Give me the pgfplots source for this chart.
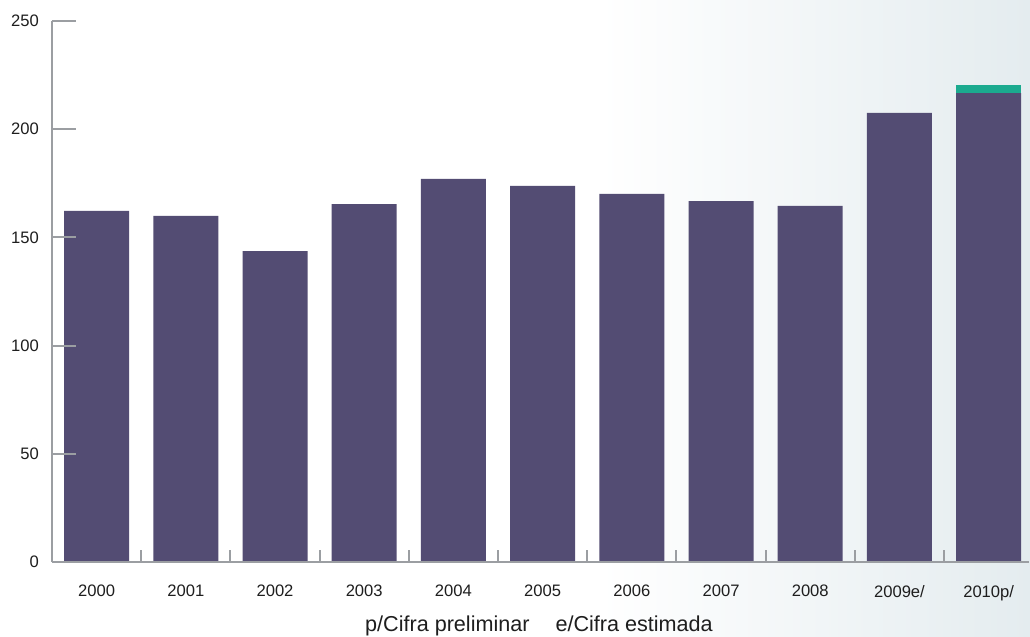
\documentclass[border=0pt]{standalone}
\usepackage{fontspec}
\setmainfont{Liberation Sans}
\usepackage{pgfplots}
\pgfplotsset{compat=1.18}
\definecolor{barpurple}{RGB}{83,76,115}
\definecolor{barteal}{RGB}{27,170,143}
\definecolor{axgray}{RGB}{155,158,162}
\definecolor{bgright}{RGB}{228,236,239}
\definecolor{txt}{RGB}{30,30,30}
\begin{document}
\begin{tikzpicture}
\path[use as bounding box] (-26pt,-37.5pt) rectangle (489pt,281pt);
\fill[white] (-26pt,-37.5pt) rectangle (275pt,281pt);
\shade[left color=white,right color=bgright] (274pt,-37.5pt) rectangle (489pt,281pt);
\begin{axis}[
  ybar, bar width=32.5pt, bar shift=0pt,
  scale only axis, width=488.4pt, height=270.5pt,
  xmin=-0.5, xmax=10.45, ymin=0, ymax=250,
  axis x line=bottom, axis y line=left,
  axis line style={axgray, line width=1pt, -},
  axis on top,
  ytick={0,50,100,150,200,250},
  major tick length=12pt,
  every tick/.style={axgray, line width=1pt},
  xtick={0,...,10},
  xticklabels={2000,2001,2002,2003,2004,2005,2006,2007,2008,2009e/,2010p/},
  major x tick style={draw=none},
  minor xtick={0.5,1.5,2.5,3.5,4.5,5.5,6.5,7.5,8.5,9.5},
  minor tick length=6pt,
  /pgf/number format/assume math mode=true,
  yticklabel style={font=\fontsize{8.3}{10}\selectfont, text=txt, xshift=-3pt},
  xticklabel style={font=\fontsize{8.3}{10}\selectfont, text=txt, yshift=-8pt},
  tick align=inside,
  xtick align=inside,
]
\addplot[fill=barteal, draw=none] coordinates {(10,220.4)};
\addplot[fill=barpurple, draw=none] coordinates {
(0,162.2) (1,159.9) (2,143.7) (3,165.4) (4,177.0) (5,173.8)
(6,170.1) (7,166.8) (8,164.6) (9,207.5) (10,216.7)};
\end{axis}
\node[font=\fontsize{10.8}{12}\selectfont, text=txt] at (243.5pt,-32pt) {p/Cifra preliminar\hspace{1.2em}e/Cifra estimada};
\end{tikzpicture}
\end{document}
